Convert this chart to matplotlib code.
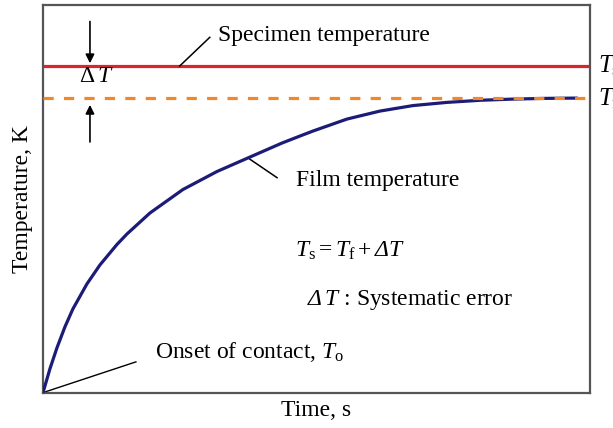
import matplotlib
matplotlib.use('Agg')
import matplotlib.pyplot as plt

# film temperature curve (time in arbitrary units, temperature normalised)
time_pts = [0.0, 0.128, 0.256, 0.402, 0.548, 0.804, 1.042, 1.353, 1.536, 1.956,
            2.559, 3.181, 3.784, 4.369, 4.698, 4.936, 5.558, 6.161, 6.764, 7.386,
            7.989, 8.592, 9.177, 9.762]
film_temp = [0.0, 0.0619, 0.1160, 0.1701, 0.2165, 0.2809, 0.3299, 0.3827, 0.4098, 0.4639,
             0.5245, 0.5709, 0.6082, 0.6443, 0.6624, 0.6753, 0.7062, 0.7268, 0.7410, 0.7492,
             0.7546, 0.7577, 0.7595, 0.7603]
specimen_temp = 0.843
film_final = 0.760

plt.rcParams['font.family'] = ['Liberation Serif', 'DejaVu Serif']
plt.rcParams['mathtext.fontset'] = 'custom'
plt.rcParams['mathtext.rm'] = 'Liberation Serif'
plt.rcParams['mathtext.it'] = 'Liberation Serif:italic'
plt.rcParams['mathtext.sf'] = 'Liberation Serif:italic'

fig = plt.figure(figsize=(6.13, 4.28), dpi=100)
ax = fig.add_axes([0.070, 0.082, 0.8925, 0.906])
ax.set_xlim(0, 10)
ax.set_ylim(0, 1)
ax.set_xticks([])
ax.set_yticks([])
for sp in ax.spines.values():
    sp.set_color('#555555')
    sp.set_linewidth(1.6)

ax.axhline(specimen_temp, color='#d8262c', lw=2.3, zorder=2)
ax.plot(time_pts, film_temp, color='#1c1c78', lw=2.3, zorder=3,
        solid_joinstyle='round', solid_capstyle='round')
ax.axhline(film_final, color='#f0882a', lw=2.3, ls=(0, (3.2, 3.2)), zorder=4)

fs = 17

# delta T arrows
ax.annotate('', xy=(0.86, specimen_temp), xytext=(0.86, 0.965),
            arrowprops=dict(arrowstyle='-|>', color='black', lw=1.2, mutation_scale=13))
ax.annotate('', xy=(0.86, film_final - 0.01), xytext=(0.86, 0.64),
            arrowprops=dict(arrowstyle='-|>', color='black', lw=1.2, mutation_scale=13))
ax.text(0.66, 0.815, r'$\Delta\,T$', fontsize=fs, va='center', ha='left')

# Specimen temperature label
ax.plot([2.5, 3.05], [specimen_temp, 0.917], color='black', lw=1.1)
ax.text(3.2, 0.922, 'Specimen temperature', fontsize=fs, va='center', ha='left')

# Film temperature label
ax.plot([3.78, 4.28], [0.603, 0.555], color='black', lw=1.1)
ax.text(4.62, 0.549, 'Film temperature', fontsize=fs, va='center', ha='left')

ax.text(4.61, 0.366, r'$T_\mathrm{s} = T_\mathrm{f} + \mathsf{\Delta} T$', fontsize=fs,
        va='center', ha='left')
ax.text(4.83, 0.240, r'$\mathsf{\Delta}\,T$ : Systematic error', fontsize=fs,
        va='center', ha='left')

# Onset label
ax.plot([0.05, 1.7], [0.003, 0.08], color='black', lw=1.0)
ax.text(2.05, 0.106, r'Onset of contact, $T_\mathrm{o}$', fontsize=fs, va='center', ha='left')

# Right side labels (partly cut by the figure edge, as in the original)
ax.text(10.14, specimen_temp, r'$T_\mathrm{s}$', fontsize=fs + 1, va='center', ha='left',
        clip_on=False)
ax.text(10.14, film_final, r'$T_\mathrm{f}$', fontsize=fs + 1, va='center', ha='left',
        clip_on=False)

ax.set_xlabel('Time, s', fontsize=fs, labelpad=5)
ax.set_ylabel('Temperature, K', fontsize=fs, labelpad=7)

fig.savefig('out.png', dpi=100)
